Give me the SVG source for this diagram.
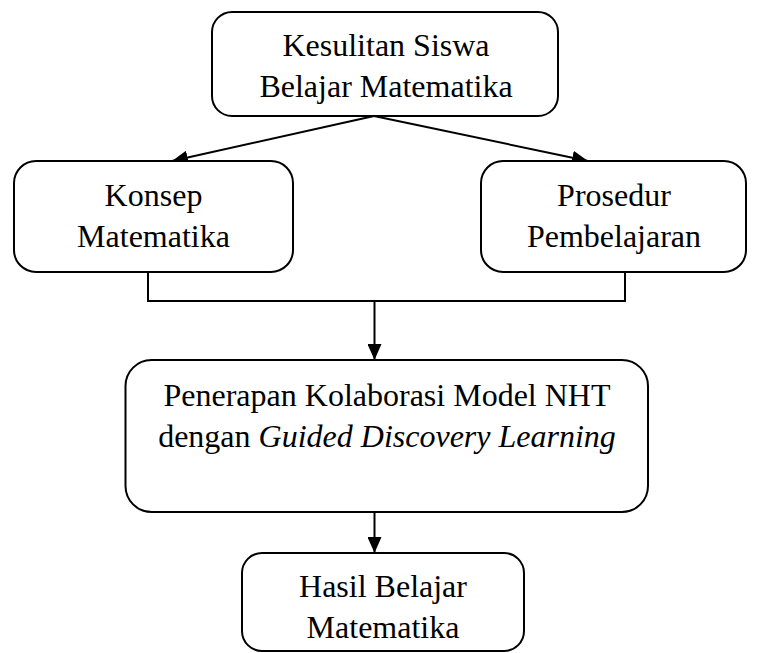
<svg xmlns="http://www.w3.org/2000/svg" width="760" height="653" viewBox="0 0 760 653">
<style>
.box{fill:#fff;stroke:#000;stroke-width:2}
.t{font-family:"Liberation Serif","Times New Roman",serif;font-size:32px;fill:#000;text-anchor:middle}
.c{fill:none;stroke:#000;stroke-width:2}
</style>
<defs>
<marker id="ah" markerUnits="userSpaceOnUse" markerWidth="16" markerHeight="14" refX="16" refY="7" orient="auto">
<path d="M0,0 L16,7 L0,14 z" fill="#000"/>
</marker>
</defs>
<rect width="760" height="653" fill="#fff"/>
<g id="connectors">
<line class="c" x1="374" y1="116" x2="172" y2="161" marker-end="url(#ah)"/>
<line class="c" x1="374" y1="116" x2="588" y2="161" marker-end="url(#ah)"/>
<polyline class="c" points="148,273 148,301 625,301 625,273"/>
<line class="c" x1="374.5" y1="301" x2="374.5" y2="360" marker-end="url(#ah)"/>
<line class="c" x1="374.5" y1="512" x2="374.5" y2="553" marker-end="url(#ah)"/>
</g>
<g id="n1">
<rect class="box" x="212" y="12" width="346" height="104" rx="20"/>
<text class="t" x="386" y="56">Kesulitan Siswa</text>
<text class="t" x="386" y="97">Belajar Matematika</text>
</g>
<g id="n2">
<rect class="box" x="14" y="161" width="279" height="111" rx="22"/>
<text class="t" x="153.5" y="206">Konsep</text>
<text class="t" x="153.5" y="247">Matematika</text>
</g>
<g id="n3">
<rect class="box" x="481" y="161" width="265" height="111" rx="22"/>
<text class="t" x="614" y="206">Prosedur</text>
<text class="t" x="614" y="247">Pembelajaran</text>
</g>
<g id="n4">
<rect class="box" x="125.5" y="360" width="522.5" height="152" rx="26"/>
<text class="t" x="387" y="406">Penerapan Kolaborasi Model NHT</text>
<text class="t" x="387" y="447">dengan <tspan font-style="italic">Guided Discovery Learning</tspan></text>
</g>
<g id="n5">
<rect class="box" x="242" y="553" width="282" height="98" rx="20"/>
<text class="t" x="383" y="597">Hasil Belajar</text>
<text class="t" x="383" y="638">Matematika</text>
</g>
</svg>
